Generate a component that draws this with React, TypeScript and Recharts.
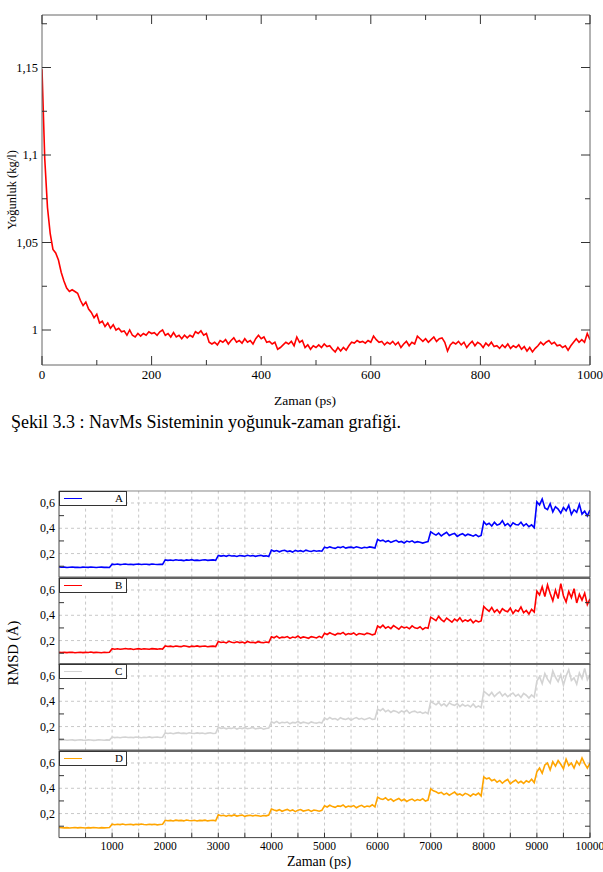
import React from "react";
import { Legend, Line, LineChart, ReferenceLine, XAxis, YAxis } from "recharts";

const FONT = "'Liberation Serif', 'Times New Roman', serif";
const FRAME = "#666";

// Şekil 3.3: density (kg/l), one sample every 5 ps, 0..1000 ps
const densityStepPs = 5;
const density = [
  1.149, 1.098, 1.070, 1.055, 1.046, 1.044, 1.040, 1.033, 1.028, 1.024, 1.022, 1.023, 1.022, 1.021, 1.017, 1.014, 1.016, 1.012, 1.010, 1.007,
  1.009, 1.004, 1.005, 1.002, 1.004, 1.001, 1.003, 1.000, 1.001, 0.999, 0.9995, 0.997, 1.000, 0.997, 0.996, 0.998, 0.9965, 0.998, 0.997, 0.999,
  0.998, 0.9985, 0.997, 0.999, 1.000, 0.997, 0.998, 0.996, 0.9985, 0.996, 0.997, 0.995, 0.997, 0.9955, 0.997, 0.996, 0.999, 0.998, 0.9995, 0.997,
  0.998, 0.993, 0.992, 0.993, 0.9915, 0.994, 0.993, 0.9945, 0.992, 0.994, 0.9955, 0.993, 0.994, 0.9925, 0.995, 0.993, 0.994, 0.992, 0.995, 0.997,
  0.995, 0.996, 0.993, 0.9935, 0.992, 0.993, 0.989, 0.990, 0.9915, 0.993, 0.992, 0.9935, 0.991, 0.996, 0.993, 0.994, 0.990, 0.9915, 0.989, 0.991,
  0.990, 0.9915, 0.990, 0.992, 0.9905, 0.991, 0.989, 0.9875, 0.990, 0.988, 0.990, 0.9885, 0.991, 0.993, 0.9925, 0.994, 0.993, 0.9935, 0.9925, 0.994,
  0.993, 0.9965, 0.9945, 0.993, 0.9935, 0.9915, 0.993, 0.992, 0.9935, 0.9915, 0.993, 0.990, 0.992, 0.9935, 0.991, 0.993, 0.992, 0.9965, 0.995, 0.9935,
  0.995, 0.993, 0.9945, 0.996, 0.9935, 0.995, 0.9955, 0.993, 0.988, 0.9915, 0.993, 0.992, 0.9935, 0.9915, 0.993, 0.990, 0.992, 0.9935, 0.991, 0.993,
  0.992, 0.990, 0.9925, 0.991, 0.993, 0.9905, 0.991, 0.9895, 0.9915, 0.990, 0.992, 0.9895, 0.991, 0.990, 0.9915, 0.989, 0.9905, 0.988, 0.990, 0.9875,
  0.9895, 0.991, 0.993, 0.9915, 0.993, 0.994, 0.992, 0.993, 0.991, 0.9915, 0.990, 0.991, 0.9885, 0.991, 0.993, 0.995, 0.993, 0.9945, 0.993, 0.998,
  0.9945,
];
const densityXTicks = [0, 100, 200, 300, 400, 500, 600, 700, 800, 900, 1000];
const densityXLabels = [0, 200, 400, 600, 800, 1000];
const densityYTicks = [1, 1.025, 1.05, 1.075, 1.1, 1.125, 1.15, 1.175];
const densityYLabels = [1, 1.05, 1.1, 1.15];

// RMSD (Å x 1000), one sample every 50 ps, 0..10000 ps, one row per 1000 ps
const rmsdStepPs = 50;
const rmsdA = [
  95, 92, 93, 90, 92, 94, 91, 92, 90, 93, 92, 91, 94, 92, 90, 92, 93, 91, 92, 90,
  116, 114, 117, 113, 115, 118, 114, 116, 113, 115, 117, 114, 116, 115, 113, 117, 115, 114, 116, 115,
  150, 146, 149, 145, 151, 147, 148, 144, 150, 147, 152, 146, 148, 145, 149, 151, 146, 148, 150, 147,
  185, 180, 184, 178, 186, 181, 183, 177, 185, 182, 179, 187, 181, 184, 178, 183, 186, 180, 182, 176,
  228, 218, 224, 214, 222, 226, 216, 221, 212, 225, 219, 223, 215, 227, 220, 217, 224, 218, 222, 219,
  250, 244, 253, 246, 241, 252, 247, 255, 243, 249, 251, 245, 254, 248, 242, 250, 246, 253, 249, 244,
  312, 300, 306, 293, 302, 288, 298, 305, 291, 296, 284, 299, 292, 301, 287, 294, 290, 283, 289, 295,
  372, 358, 346, 362, 339, 355, 368, 343, 352, 360, 336, 349, 357, 341, 353, 346, 338, 350, 334, 343,
  452, 428, 440, 418, 447, 425, 433, 460, 422, 438, 415, 444, 430, 426, 448, 419, 436, 412, 427, 405,
  610, 585, 632, 560, 548, 595, 530, 571, 552, 520, 564, 538, 582, 509, 547, 526, 590, 512, 535, 498,
  545,
];
const rmsdB = [
  108, 106, 107, 105, 108, 107, 104, 106, 108, 105, 107, 106, 109, 105, 107, 106, 104, 108, 106, 107,
  136, 132, 135, 131, 134, 137, 133, 135, 130, 134, 136, 132, 135, 133, 131, 136, 134, 132, 135, 133,
  158, 153, 156, 151, 157, 154, 152, 159, 155, 150, 156, 153, 158, 152, 155, 157, 151, 154, 156, 153,
  192, 185, 189, 181, 194, 186, 183, 190, 184, 188, 180, 193, 185, 187, 182, 191, 186, 183, 189, 184,
  230, 222, 235, 219, 227, 224, 232, 217, 228, 223, 236, 220, 229, 225, 218, 231, 226, 221, 233, 222,
  258, 248, 262, 251, 244, 257, 253, 265, 246, 255, 250, 260, 243, 256, 252, 247, 259, 254, 245, 251,
  315, 302, 322, 298, 310, 295, 318, 304, 290, 312, 300, 307, 293, 316, 301, 296, 309, 288, 303, 297,
  385, 372, 358, 391, 366, 350, 378, 362, 345, 370, 356, 380, 349, 364, 353, 368, 341, 359, 347, 355,
  470, 448, 432, 462, 425, 445, 418, 452, 436, 428, 458, 414, 442, 430, 465, 420, 438, 410, 447, 426,
  590, 560, 625, 548, 640, 572, 515, 598, 532, 650, 555, 505, 588, 540, 610, 498, 566, 520, 575, 485,
  530,
];
const rmsdC = [
  95, 93, 96, 92, 94, 95, 91, 94, 96, 93, 92, 95, 94, 91, 93, 96, 94, 92, 95, 93,
  117, 113, 116, 112, 115, 118, 114, 116, 113, 117, 115, 112, 116, 114, 118, 113, 115, 117, 114, 116,
  150, 145, 149, 143, 148, 152, 146, 148, 144, 151, 147, 145, 150, 146, 149, 143, 148, 151, 145, 147,
  194, 186, 190, 182, 188, 185, 192, 180, 189, 184, 191, 183, 187, 193, 181, 186, 190, 179, 185, 188,
  238, 228, 241, 225, 234, 230, 236, 222, 233, 229, 240, 226, 235, 231, 224, 237, 230, 227, 234, 228,
  268, 255, 272, 259, 264, 252, 270, 261, 256, 266, 250, 263, 271, 258, 265, 254, 262, 269, 257, 260,
  338, 325, 342, 318, 330, 312, 326, 320, 308, 324, 315, 329, 306, 318, 322, 310, 316, 304, 314, 302,
  398, 385, 372, 392, 366, 380, 360, 388, 374, 368, 382, 358, 376, 362, 370, 355, 378, 352, 364, 350,
  480, 462, 445, 470, 438, 458, 475, 442, 460, 436, 452, 466, 440, 455, 430, 462, 448, 425, 450, 432,
  560, 595, 540, 620, 575, 545, 640, 590, 555, 610, 528, 600, 650, 565, 585, 535, 625, 580, 660, 570,
  610,
];
const rmsdD = [
  90, 88, 87, 89, 86, 88, 90, 87, 89, 88, 86, 89, 87, 90, 88, 86, 89, 87, 88, 90,
  116, 112, 115, 113, 117, 112, 114, 116, 111, 115, 113, 117, 114, 112, 116, 113, 115, 111, 114, 116,
  147, 143, 146, 141, 148, 144, 146, 142, 149, 145, 143, 147, 141, 146, 144, 148, 142, 145, 147, 143,
  190, 183, 187, 179, 186, 182, 189, 180, 185, 188, 178, 184, 187, 181, 186, 183, 179, 185, 182, 188,
  236, 228, 222, 231, 218, 226, 233, 221, 229, 215, 227, 232, 220, 225, 230, 217, 228, 224, 219, 226,
  262, 252, 266, 255, 249, 261, 257, 268, 250, 259, 254, 263, 246, 258, 265, 251, 260, 255, 270, 253,
  330, 318, 312, 325, 305, 316, 298, 310, 320, 302, 313, 296, 308, 315, 300, 311, 304, 318, 299, 307,
  395, 380, 372, 360, 368, 350, 362, 345, 358, 370, 348, 355, 342, 360, 352, 338, 356, 347, 362, 340,
  490, 475, 482, 460, 470, 448, 462, 440, 458, 470, 435, 452, 465, 442, 455, 438, 460, 448, 472, 445,
  530, 560, 520, 585, 600, 545, 610, 575, 620, 590, 555, 630, 580, 600, 560, 615, 585, 640, 595, 560,
  600,
];
const rmsdXTicks = [500, 1000, 1500, 2000, 2500, 3000, 3500, 4000, 4500, 5000, 5500, 6000, 6500, 7000, 7500, 8000, 8500, 9000, 9500, 10000];
const rmsdXLabels = [1000, 2000, 3000, 4000, 5000, 6000, 7000, 8000, 9000, 10000];
const rmsdGridX = [500, 1000, 1500, 2000, 2500, 3000, 3500, 4000, 4500, 5000, 5500, 6000, 6500, 7000, 7500, 8000, 8500, 9000, 9500];
const rmsdYTicks = [0.1, 0.2, 0.3, 0.4, 0.5, 0.6];
const rmsdYLabels = [0.2, 0.4, 0.6];
const rmsdMinorY = [0.1, 0.3, 0.5];
const rmsdGridY = [0.2, 0.4, 0.6];

const panels = [
  { key: "A", name: "A", color: "#0000ff", data: rmsdA },
  { key: "B", name: "B", color: "#ff0000", data: rmsdB },
  { key: "C", name: "C", color: "#d3d3d3", data: rmsdC },
  { key: "D", name: "D", color: "#ffa500", data: rmsdD },
];

const densityRows = density.map((v, i) => ({ t: i * densityStepPs, v }));
const rmsdRows = rmsdA.map((_, i) => ({
  t: i * rmsdStepPs,
  A: rmsdA[i] / 1000,
  B: rmsdB[i] / 1000,
  C: rmsdC[i] / 1000,
  D: rmsdD[i] / 1000,
}));

const inList = (arr: number[] | undefined, v: number) => !!arr && arr.some((a) => Math.abs(a - v) < 1e-9);
const comma = (v: number) => String(v).replace(".", ",");

type Side = "left" | "right" | "top" | "bottom";

// ticks point into the plot, like xmgrace; gap = tickMargin of the axis
function inTick(o: {
  side: Side;
  gap: number;
  labels?: number[];
  long?: number[];
  short?: number[];
  longLen?: number;
  shortLen?: number;
  fontSize?: number;
}) {
  return (p: any) => {
    const v = p.payload.value;
    const len = inList(o.long, v) ? o.longLen || 0 : inList(o.short, v) ? o.shortLen || 0 : 0;
    const label = inList(o.labels, v);
    const st = { stroke: "#333", strokeWidth: 1 };
    const txt = { fontFamily: FONT, fontSize: o.fontSize || 12, fill: "#000" };
    let line: React.ReactNode = null;
    let text: React.ReactNode = null;
    if (o.side === "left") {
      const ax = p.x + o.gap;
      if (len) line = <line x1={ax} x2={ax + len} y1={p.y} y2={p.y} {...st} />;
      if (label)
        text = (
          <text x={p.x} y={p.y} textAnchor="end" dominantBaseline="central" style={txt}>
            {comma(v)}
          </text>
        );
    } else if (o.side === "right") {
      const ax = p.x - o.gap;
      if (len) line = <line x1={ax} x2={ax - len} y1={p.y} y2={p.y} {...st} />;
    } else if (o.side === "bottom") {
      const ay = p.y - o.gap;
      if (len) line = <line x1={p.x} x2={p.x} y1={ay} y2={ay - len} {...st} />;
      if (label)
        text = (
          <text x={p.x} y={p.y} dy="0.71em" textAnchor="middle" style={txt}>
            {comma(v)}
          </text>
        );
    } else {
      const ay = p.y + o.gap;
      if (len) line = <line x1={p.x} x2={p.x} y1={ay} y2={ay + len} {...st} />;
    }
    return (
      <g>
        {line}
        {text}
      </g>
    );
  };
}

function DensityChart() {
  const axis = { stroke: FRAME, strokeWidth: 1 };
  return (
    <LineChart width={603} height={400} data={densityRows} margin={{ top: 14, right: 12, bottom: 0, left: 0 }}>
      <XAxis
        dataKey="t"
        type="number"
        domain={[0, 1000]}
        allowDataOverflow
        ticks={densityXTicks}
        interval={0}
        height={35}
        tickSize={0}
        tickMargin={5}
        tickLine={false}
        axisLine={axis}
        tick={inTick({ side: "bottom", gap: 5, labels: densityXLabels, long: densityXLabels, short: densityXTicks, longLen: 9, shortLen: 5, fontSize: 13 })}
      />
      <XAxis
        xAxisId="top"
        orientation="top"
        dataKey="t"
        type="number"
        domain={[0, 1000]}
        allowDataOverflow
        ticks={densityXTicks}
        interval={0}
        height={1}
        tickSize={0}
        tickMargin={0}
        tickLine={false}
        axisLine={axis}
        tick={inTick({ side: "top", gap: 0, long: densityXLabels, short: densityXTicks, longLen: 9, shortLen: 5 })}
      />
      <YAxis
        type="number"
        domain={[0.98, 1.18]}
        allowDataOverflow
        ticks={densityYTicks}
        interval={0}
        width={42}
        tickSize={0}
        tickMargin={4}
        tickLine={false}
        axisLine={axis}
        tick={inTick({ side: "left", gap: 4, labels: densityYLabels, long: densityYLabels, short: densityYTicks, longLen: 9, shortLen: 5, fontSize: 12.5 })}
      />
      <YAxis
        yAxisId="r"
        orientation="right"
        type="number"
        domain={[0.98, 1.18]}
        allowDataOverflow
        ticks={densityYTicks}
        interval={0}
        width={1}
        tickSize={0}
        tickMargin={0}
        tickLine={false}
        axisLine={axis}
        tick={inTick({ side: "right", gap: 0, long: densityYLabels, short: densityYTicks, longLen: 9, shortLen: 5 })}
      />
      <Line dataKey="v" type="linear" stroke="#ff0000" strokeWidth={1.6} dot={false} isAnimationActive={false} />
    </LineChart>
  );
}

const PANEL_TOP = 491;
const PANEL_H = 86.6;

function legendBox(color: string) {
  return (props: any) => {
    const item = props.payload && props.payload[0];
    if (!item) return null;
    return (
      <div
        style={{
          position: "relative",
          width: 68,
          height: 15,
          boxSizing: "border-box",
          border: "1px solid #333",
          background: "#fff",
          fontFamily: FONT,
          fontSize: 11,
          color: "#000",
        }}
      >
        <div style={{ position: "absolute", left: 4, top: 6, width: 18, borderTop: `1px solid ${color}` }} />
        <span style={{ position: "absolute", left: 55, top: 0, lineHeight: "13px" }}>{item.value}</span>
      </div>
    );
  };
}

function RmsdPanel({ idx }: { idx: number }) {
  const p = panels[idx];
  const last = idx === panels.length - 1;
  const bottomH = last ? 34 : 1;
  const top = PANEL_TOP + idx * PANEL_H;
  const sep = { stroke: FRAME, strokeWidth: 2 };
  const side = { stroke: "#444", strokeWidth: 1 };
  return (
    <div style={{ position: "absolute", left: 0, top: top - 1 }}>
      <LineChart width={603} height={1 + PANEL_H + bottomH} data={rmsdRows} margin={{ top: 0, right: 12, bottom: 0, left: 0 }}>
        <XAxis
          xAxisId="top"
          orientation="top"
          dataKey="t"
          type="number"
          domain={[0, 10000]}
          allowDataOverflow
          height={1}
          tick={false}
          tickLine={false}
          axisLine={idx === 0 ? { stroke: "#888", strokeWidth: 1 } : sep}
        />
        <XAxis
          dataKey="t"
          type="number"
          domain={[0, 10000]}
          allowDataOverflow
          ticks={rmsdXTicks}
          interval={0}
          height={bottomH}
          tickSize={0}
          tickMargin={4}
          tickLine={false}
          axisLine={last ? side : sep}
          tick={last ? inTick({ side: "bottom", gap: 4, labels: rmsdXLabels, short: rmsdXTicks, shortLen: 5, fontSize: 11.5 }) : false}
        />
        <YAxis
          type="number"
          domain={[0.01, 0.695]}
          allowDataOverflow
          ticks={rmsdYTicks}
          interval={0}
          width={59}
          tickSize={0}
          tickMargin={4}
          tickLine={false}
          axisLine={side}
          tick={inTick({ side: "left", gap: 4, labels: rmsdYLabels, short: rmsdMinorY, shortLen: 5, fontSize: 12 })}
        />
        <YAxis
          yAxisId="r"
          orientation="right"
          type="number"
          domain={[0.01, 0.695]}
          allowDataOverflow
          ticks={rmsdYTicks}
          interval={0}
          width={1}
          tickSize={0}
          tickMargin={0}
          tickLine={false}
          axisLine={side}
          tick={inTick({ side: "right", gap: 0, short: rmsdMinorY, shortLen: 5 })}
        />
        {rmsdGridX.map((x) => (
          <ReferenceLine key={"gx" + x} x={x} stroke="#c8c8c8" strokeDasharray="3 3" />
        ))}
        {rmsdGridY.map((y) => (
          <ReferenceLine key={"gy" + y} y={y} stroke="#c8c8c8" strokeDasharray="3 3" />
        ))}
        <Legend
          layout="horizontal"
          verticalAlign="middle"
          align="center"
          content={legendBox(p.color)}
          wrapperStyle={{ left: 59, top: 1, width: 68, height: 15 }}
        />
        <Line
          dataKey={p.key}
          name={p.name}
          type="linear"
          stroke={p.color}
          strokeWidth={1.6}
          dot={false}
          isAnimationActive={false}
        />
      </LineChart>
    </div>
  );
}

function VLabel({ cx, cy, size, children }: { cx: number; cy: number; size: number; children: React.ReactNode }) {
  return (
    <div
      style={{
        position: "absolute",
        left: cx,
        top: cy,
        transform: "translate(-50%, -50%) rotate(-90deg)",
        whiteSpace: "nowrap",
        fontFamily: FONT,
        fontSize: size,
        lineHeight: 1,
        color: "#000",
      }}
    >
      {children}
    </div>
  );
}

function HLabel({ cx, cy, size, children }: { cx: number; cy: number; size: number; children: React.ReactNode }) {
  return (
    <div
      style={{
        position: "absolute",
        left: cx,
        top: cy,
        transform: "translate(-50%, -50%)",
        whiteSpace: "nowrap",
        fontFamily: FONT,
        fontSize: size,
        lineHeight: 1,
        color: "#000",
      }}
    >
      {children}
    </div>
  );
}

export default function App() {
  return (
    <div style={{ position: "absolute", left: 0, top: 0, width: 603, height: 872, background: "#fff", overflow: "hidden" }}>
      <div style={{ position: "absolute", left: 0, top: 0 }}>
        <DensityChart />
      </div>
      <VLabel cx={12} cy={190} size={12.5}>
        Yoğunluk (kg/l)
      </VLabel>
      <HLabel cx={305} cy={401} size={13.5}>
        Zaman (ps)
      </HLabel>
      <div
        style={{
          position: "absolute",
          left: 11,
          top: 413,
          fontFamily: FONT,
          fontSize: 18,
          lineHeight: 1,
          whiteSpace: "nowrap",
          color: "#000",
        }}
      >
        Şekil 3.3 : NavMs Sisteminin yoğunuk-zaman grafiği.
      </div>
      {panels.map((p, i) => (
        <RmsdPanel key={p.key} idx={i} />
      ))}
      <VLabel cx={13} cy={653} size={14.5}>
        RMSD (Å)
      </VLabel>
      <HLabel cx={319} cy={862} size={14}>
        Zaman (ps)
      </HLabel>
    </div>
  );
}
